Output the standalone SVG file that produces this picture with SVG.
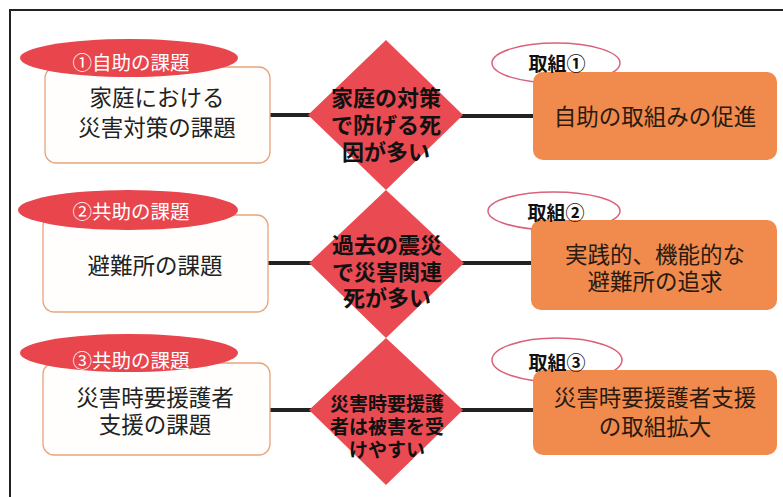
<svg xmlns="http://www.w3.org/2000/svg" width="783" height="497" viewBox="0 0 783 497">
<style>
text{font-family:"Noto Sans CJK JP","Noto Sans CJK SC",sans-serif;text-anchor:middle}
.frame{fill:#fff;stroke:#222;stroke-width:2}
.lbox{fill:#fffefc;stroke:#e9a47c;stroke-width:1.3}
.lbl{fill:#e8454d}
.lbltx{fill:#fff;font-size:19.5px}
.ltx{fill:#222;font-size:22.5px}
.dia{fill:#ea4a52}
.dtx{fill:#111;font-size:22px;font-weight:bold}
.dtx3{fill:#111;font-size:19px;font-weight:bold}
.rlbl{fill:#fff;stroke:#d9627a;stroke-width:1.5}
.rlbltx{fill:#111;font-size:19px;font-weight:bold}
.rbox{fill:#f08a4d}
.rtx{fill:#2a1a10;font-size:22.5px}
.conn{stroke:#222;stroke-width:4;fill:none}
</style>
<rect class="frame" x="10" y="10" width="800" height="500"/>
<g id="connectors">
<line class="conn" x1="270" y1="115" x2="320" y2="115"/>
<line class="conn" x1="455" y1="116" x2="535" y2="116"/>
<line class="conn" x1="268" y1="263" x2="320" y2="263"/>
<line class="conn" x1="455" y1="263" x2="532" y2="263"/>
<line class="conn" x1="270" y1="410" x2="320" y2="410"/>
<line class="conn" x1="455" y1="410" x2="535" y2="410"/>
</g>
<g id="issue1">
<rect class="lbox" x="45" y="67" width="225" height="96" rx="11"/>
<ellipse class="lbl" cx="129" cy="58" rx="109" ry="19"/>
<text class="lbltx" x="131" y="70">①自助の課題</text>
<text class="ltx" x="157" y="106">家庭における</text>
<text class="ltx" x="157" y="136">災害対策の課題</text>
</g>
<g id="issue2">
<rect class="lbox" x="43" y="215" width="225" height="97" rx="11"/>
<ellipse class="lbl" cx="128" cy="210" rx="110" ry="20"/>
<text class="lbltx" x="131" y="219">②共助の課題</text>
<text class="ltx" x="155" y="274">避難所の課題</text>
</g>
<g id="issue3">
<rect class="lbox" x="43" y="363" width="227" height="92" rx="11"/>
<ellipse class="lbl" cx="129" cy="353" rx="109" ry="19"/>
<text class="lbltx" x="131" y="368">③共助の課題</text>
<text class="ltx" x="155" y="406">災害時要援護者</text>
<text class="ltx" x="155" y="433">支援の課題</text>
</g>
<g id="cause1">
<polygon class="dia" points="386,40 463,115 386,190 308,115"/>
<text class="dtx" x="386" y="106">家庭の対策</text>
<text class="dtx" x="386" y="133">で防げる死</text>
<text class="dtx" x="386" y="160">因が多い</text>
</g>
<g id="cause2">
<polygon class="dia" points="386,190 464,263 386,338 309,263"/>
<text class="dtx" x="387" y="253">過去の震災</text>
<text class="dtx" x="387" y="280">で災害関連</text>
<text class="dtx" x="387" y="306">死が多い</text>
</g>
<g id="cause3">
<polygon class="dia" points="386,338 463,410 386,485 309,410"/>
<text class="dtx3" x="387" y="411">災害時要援護</text>
<text class="dtx3" x="387" y="434">者は被害を受</text>
<text class="dtx3" x="387" y="457">けやすい</text>
</g>
<g id="action1">
<ellipse class="rlbl" cx="556" cy="63" rx="64" ry="20"/>
<rect class="rbox" x="533" y="72" width="244" height="88" rx="10"/>
<text class="rlbltx" x="557" y="71">取組①</text>
<text class="rtx" x="655" y="125">自助の取組みの促進</text>
</g>
<g id="action2">
<ellipse class="rlbl" cx="554" cy="211" rx="66" ry="19"/>
<rect class="rbox" x="531" y="220" width="246" height="90" rx="10"/>
<text class="rlbltx" x="556" y="220">取組②</text>
<text class="rtx" x="655" y="263">実践的、機能的な</text>
<text class="rtx" x="655" y="290">避難所の追求</text>
</g>
<g id="action3">
<ellipse class="rlbl" cx="557" cy="360" rx="65" ry="22"/>
<rect class="rbox" x="533" y="370" width="244" height="85" rx="10"/>
<text class="rlbltx" x="557" y="370">取組③</text>
<text class="rtx" x="655" y="406">災害時要援護者支援</text>
<text class="rtx" x="655" y="435">の取組拡大</text>
</g>
</svg>
